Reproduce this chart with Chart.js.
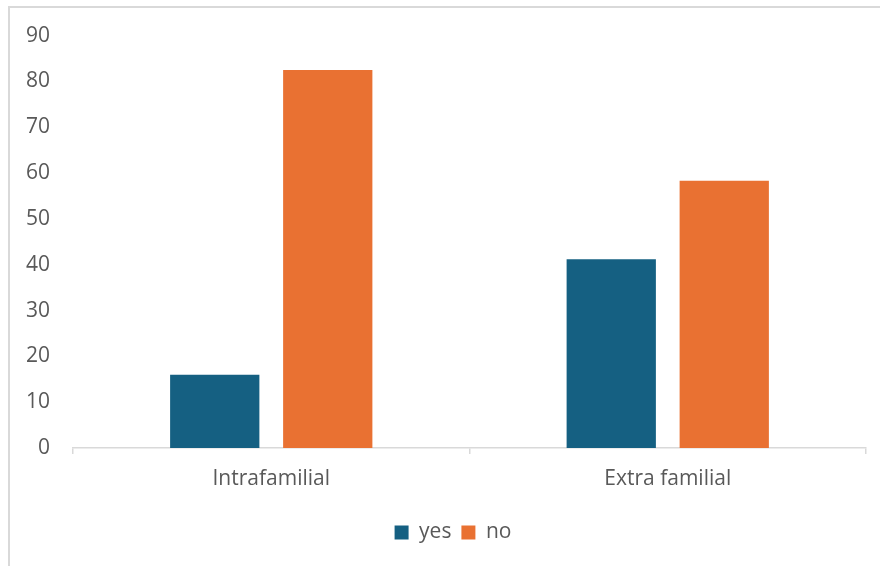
<!DOCTYPE html>
<html>
<head>
<meta charset="utf-8">
<script src="https://cdn.jsdelivr.net/npm/chart.js@4.4.0/dist/chart.umd.js"></script>
<style>
  html, body { margin: 0; padding: 0; background: #fff; }
  #wrap { position: relative; width: 880px; height: 566px; }
  #frame { position: absolute; left: 8px; top: 6px; width: 900px; height: 600px;
           border-left: 2px solid #d9d9d9; border-top: 2px solid #d9d9d9; pointer-events: none; }
</style>
</head>
<body>
<div id="wrap">
  <canvas id="chart" width="880" height="566"></canvas>
  <div id="frame"></div>
</div>
<script>
// categories and series
const categories = ['Intrafamilial', 'Extra familial'];
const yesValues = [16.0, 41.2];
const noValues = [82.5, 58.3];
const yTicks = [0, 10, 20, 30, 40, 50, 60, 70, 80, 90];

const textColor = '#595959';
const lineColor = '#d9d9d9';
const fontFamily = '"Open Sans", "Noto Sans", sans-serif';
const fontSize = 21;

// nudge the legend so it sits centred under the plot, as in the original
const legendShift = {
    id: 'legendShift',
    beforeDraw(chart) {
        const lg = chart.legend;
        if (lg && !lg._shifted) {
            lg.left += 20;
            lg.right += 20;
            lg._shifted = true;
        }
    }
};

const ctx = document.getElementById('chart').getContext('2d');

new Chart(ctx, {
    type: 'bar',
    data: {
        labels: categories,
        datasets: [
            { label: 'yes', data: yesValues, backgroundColor: '#156082' },
            { label: 'no', data: noValues, backgroundColor: '#E97132' }
        ]
    },
    options: {
        responsive: false,
        animation: false,
        categoryPercentage: 0.57,
        barPercentage: 0.79,
        layout: { padding: { top: 35, right: 14, left: 0, bottom: 13 } },
        plugins: {
            tooltip: { enabled: false },
            legend: {
                position: 'bottom',
                labels: {
                    color: textColor,
                    font: { family: fontFamily, size: fontSize },
                    boxWidth: 14,
                    boxHeight: 14,
                    padding: 10
                }
            }
        },
        scales: {
            x: {
                afterFit: (scale) => { scale.height = 64; },
                grid: { display: true, drawOnChartArea: false, drawTicks: true, tickLength: 6, color: lineColor, lineWidth: 1.5 },
                border: { color: lineColor, width: 1.5 },
                ticks: { color: textColor, font: { family: fontFamily, size: fontSize }, padding: 12 }
            },
            y: {
                min: 0,
                max: 90,
                afterBuildTicks: (scale) => { scale.ticks = yTicks.map(v => ({ value: v })); },
                afterFit: (scale) => { scale.width = 73; },
                grid: { display: false, drawTicks: false },
                border: { display: false },
                ticks: { color: textColor, font: { family: fontFamily, size: fontSize }, padding: 23 }
            }
        }
    },
    plugins: [legendShift]
});
</script>
</body>
</html>
